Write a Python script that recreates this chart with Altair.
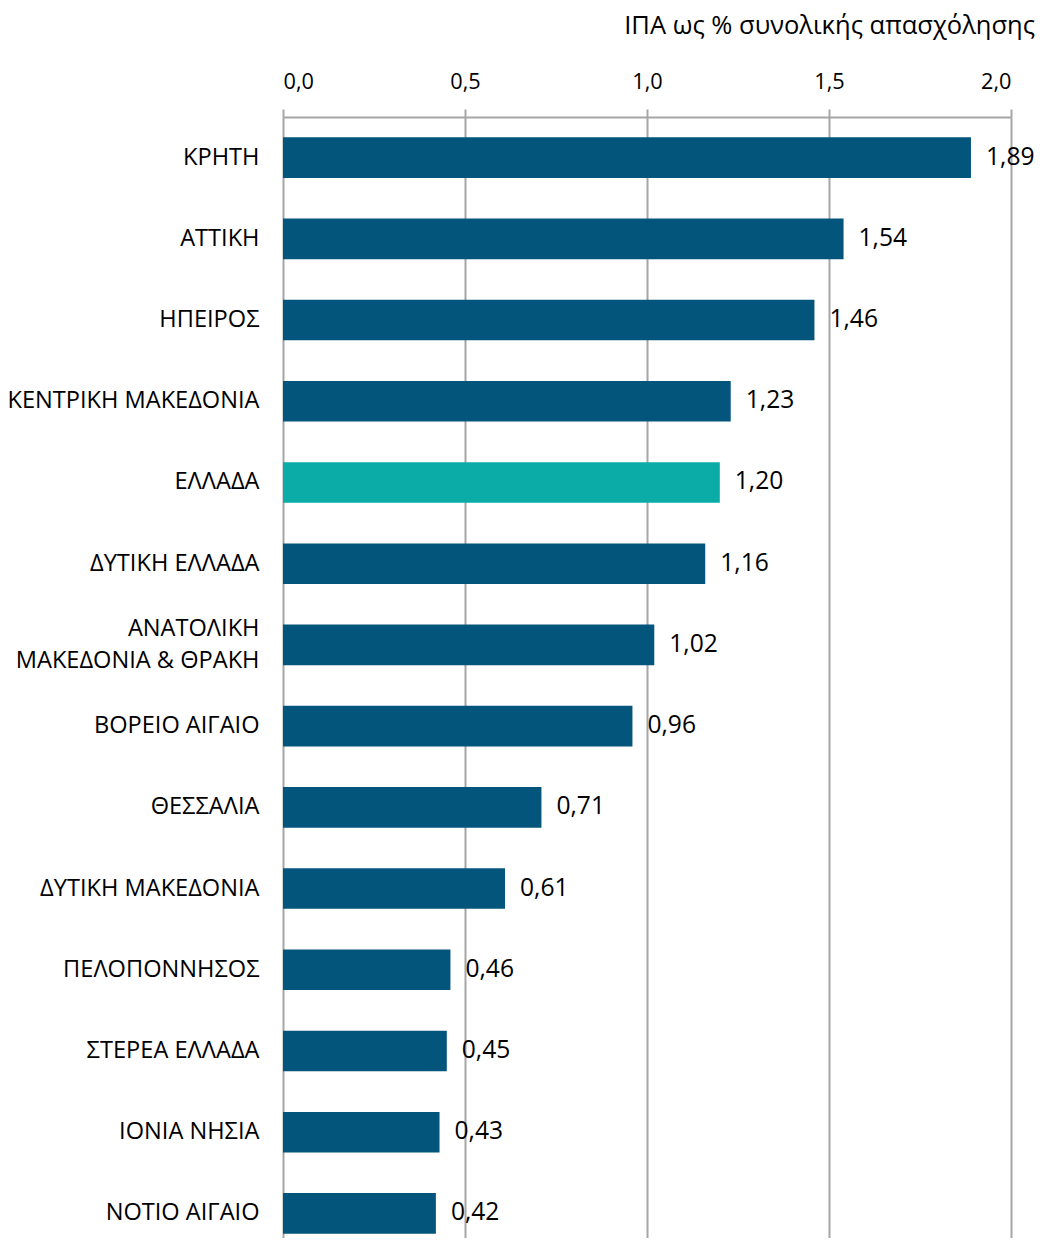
import altair as alt
import pandas as pd

regions = ["ΚΡΗΤΗ", "ΑΤΤΙΚΗ", "ΗΠΕΙΡΟΣ", "ΚΕΝΤΡΙΚΗ ΜΑΚΕΔΟΝΙΑ", "ΕΛΛΑΔΑ",
           "ΔΥΤΙΚΗ ΕΛΛΑΔΑ", "ΑΝΑΤΟΛΙΚΗ|ΜΑΚΕΔΟΝΙΑ & ΘΡΑΚΗ", "ΒΟΡΕΙΟ ΑΙΓΑΙΟ",
           "ΘΕΣΣΑΛΙΑ", "ΔΥΤΙΚΗ ΜΑΚΕΔΟΝΙΑ", "ΠΕΛΟΠΟΝΝΗΣΟΣ", "ΣΤΕΡΕΑ ΕΛΛΑΔΑ",
           "ΙΟΝΙΑ ΝΗΣΙΑ", "ΝΟΤΙΟ ΑΙΓΑΙΟ"]
values = [1.89, 1.54, 1.46, 1.23, 1.20, 1.16, 1.02, 0.96, 0.71, 0.61, 0.46, 0.45, 0.43, 0.42]
highlight = ["ΕΛΛΑΔΑ"]

df = pd.DataFrame({"region": regions, "value": values})
df["label"] = [f"{v:.2f}".replace(".", ",") for v in values]
df["group"] = ["hl" if r in highlight else "reg" for r in regions]

FONT = "Open Sans"

base = alt.Chart(df).encode(
    y=alt.Y("region:N", sort=regions,
            scale=alt.Scale(paddingInner=0.5, paddingOuter=0.25, range=[0, 1137]),
            axis=alt.Axis(title=None, domain=False, ticks=False, grid=False,
                          labelFont=FONT, labelFontSize=23.6, labelColor="#000000",
                          labelPadding=24, labelLimit=400,
                          labelExpr="split(datum.label, '|')", labelLineHeight=32,
                          labelOffset=alt.ExprRef("indexof(datum.label, '|') >= 0 ? -16 : 0"))),
    x=alt.X("value:Q", scale=alt.Scale(domain=[0, 2]),
            axis=alt.Axis(orient="top", title=None, values=[0, 0.5, 1, 1.5, 2],
                          labelExpr="replace(format(datum.value, '.1f'), '.', ',')",
                          labelFont=FONT, labelFontSize=21.7, labelColor="#000000",
                          labelPadding=16, tickSize=8, tickColor="#A6A6A6", tickWidth=2,
                          domainColor="#A6A6A6", domainWidth=2,
                          grid=True, gridColor="#A6A6A6", gridWidth=2)),
)

bars = base.mark_bar().encode(
    color=alt.Color("group:N", scale=alt.Scale(domain=["reg", "hl"], range=["#03557C", "#0BABA8"]),
                    legend=None)
)

text = base.mark_text(align="left", baseline="middle", dx=15, font=FONT, fontSize=24.6,
                      color="#000000").encode(text="label:N")

chart = (bars + text).properties(
    width=728, height=1121,
    autosize=alt.AutoSizeParams(type="none"),
    padding={"left": 275, "top": 109, "right": 28, "bottom": 0},
    title=alt.TitleParams("ΙΠΑ ως % συνολικής απασχόλησης", anchor="end", frame="group",
                          dx=24, font=FONT, fontSize=25.5, fontWeight="normal", color="#000000",
                          offset=32)
).configure_view(stroke=None)

chart.save("out.html", embed_options={"renderer": "svg", "actions": False})
